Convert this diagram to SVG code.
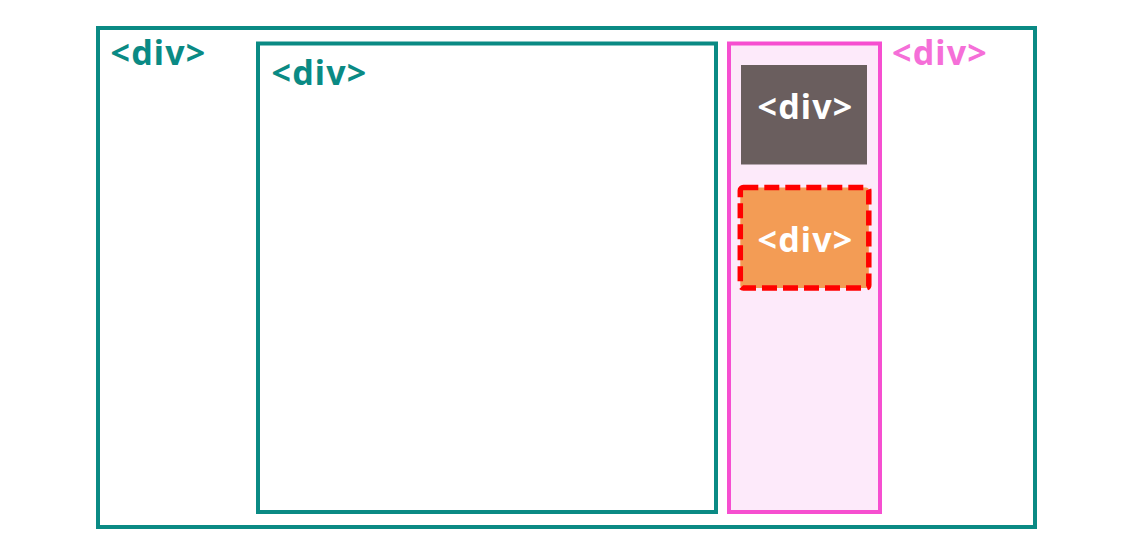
<svg xmlns="http://www.w3.org/2000/svg" width="1132" height="556" viewBox="0 0 1132 556">
<style>
.lbl{font-family:"Noto Sans","Open Sans","DejaVu Sans",sans-serif;font-weight:bold;font-size:34px;letter-spacing:1.2px;}
.teal{fill:#0a8a84;}
.box{fill:none;stroke:#0a8a84;stroke-width:4;}
</style>
<rect width="1132" height="556" fill="#ffffff"/>
<g id="outer">
<rect class="box" x="98" y="28" width="937" height="499"/>
<text class="lbl teal" x="110.5" y="65">&lt;div&gt;</text>
</g>
<g id="main">
<rect class="box" x="258" y="43.5" width="458" height="468.5"/>
<text class="lbl teal" x="271.5" y="85">&lt;div&gt;</text>
</g>
<g id="sidebar">
<rect x="729" y="43.5" width="151" height="468.5" fill="#fdeafa" stroke="#f64fd0" stroke-width="4"/>
<text class="lbl" x="892" y="64.5" fill="#f56fd8">&lt;div&gt;</text>
</g>
<g id="dark">
<rect x="741" y="65" width="126" height="99.5" fill="#6a5e5e"/>
<text class="lbl" x="757.5" y="118.5" fill="#ffffff">&lt;div&gt;</text>
</g>
<g id="selected">
<rect x="740.3" y="187.5" width="128.5" height="100.5" rx="3" fill="#f39c55" stroke="#ff0000" stroke-width="5.5" stroke-dasharray="15 6"/>
<text class="lbl" x="757.5" y="251.5" fill="#ffffff">&lt;div&gt;</text>
</g>
</svg>
